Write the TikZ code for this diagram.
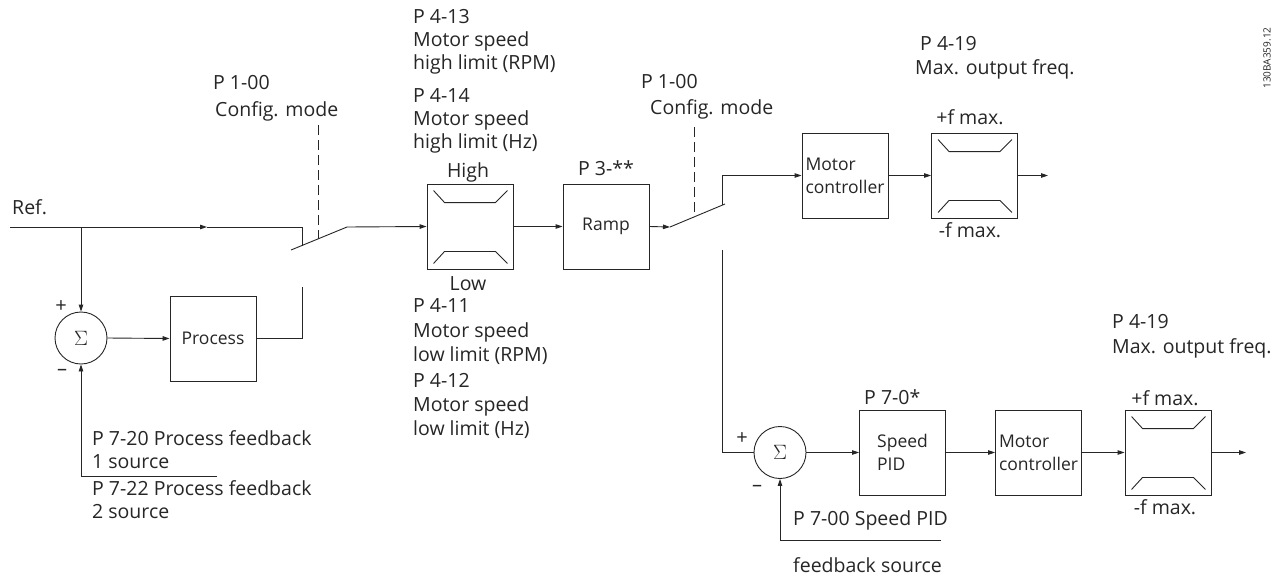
\documentclass[tikz,border=0pt]{standalone}
\usepackage{fontspec}
\setmainfont{Open Sans}
\usetikzlibrary{arrows.meta,calc}
\tikzset{
  ln/.style={draw=black!85, line width=0.9pt},
  arr/.style={ln, -{Triangle[length=7pt,width=4.5pt]}},
  blk/.style={ln, rectangle, minimum width=86pt, minimum height=85pt, inner sep=0pt, align=left, text=black!85, font=\fontsize{17.5}{23}\selectfont},
  sumc/.style={ln, circle, minimum size=52pt, inner sep=0pt, text=black!85, font=\fontsize{22}{24}\selectfont},
  lbl/.style={inner sep=0pt, anchor=base west, text=black!85, font=\fontsize{19.5}{24}\selectfont},
  lblc/.style={lbl, anchor=base},
  sgn/.style={inner sep=0pt, text=black!85, font=\fontsize{20}{22}\selectfont},
  dsh/.style={ln, dash pattern=on 10pt off 5pt},
}
\newcommand{\limiter}[1]{%
  \draw[ln] ($(#1.north west)+(7,7)$) -- ($(#1.north west)+(18,19)$) -- ($(#1.north east)+(-18,19)$) -- ($(#1.north east)+(-6,7)$);
  \draw[ln] ($(#1.south west)+(7,-6)$) -- ($(#1.south west)+(18,-18)$) -- ($(#1.south east)+(-18,-18)$) -- ($(#1.south east)+(-6,-6)$);
}
\begin{document}
\begin{tikzpicture}[x=1pt,y=-1pt]
\useasboundingbox (0,0) rectangle (1274,581);
\fill[white] (0,0) rectangle (1274,581);

% blocks
\node[blk] (lim1) at (470,226.5) {};
\node[blk] (ramp) at (606,226.5) {Ramp};
\node[blk] (proc) at (213,338.5) {Process};
\node[blk] (mc1) at (845,175.5) {Motor\\controller};
\node[blk] (lim2) at (974.5,175.5) {};
\node[blk] (pid) at (902.5,452.5) {Speed\\PID};
\node[blk] (mc2) at (1038.5,452.5) {Motor\\controller};
\node[blk] (lim3) at (1168,452.5) {};
\node[sumc] (s1) at (81,338) {$\Sigma$};
\node[sumc] (s2) at (780,452.5) {$\Sigma$};
\limiter{lim1}
\limiter{lim2}
\limiter{lim3}

% points
\coordinate (refstart) at (10,227);
\coordinate (j1) at (81,227);
\coordinate (refmid) at (207,227);
\coordinate (sw1top) at (302,227);
\coordinate (sw1piv) at (302,245.5);
\coordinate (sw1a) at (291,250);
\coordinate (sw1b) at (347,227);
\coordinate (sw1low) at (302,287);
\coordinate (d1top) at (318,125);
\coordinate (d1bot) at (318,239);
\coordinate (fb1c) at (81,476);
\coordinate (fb1e) at (217,476);
\coordinate (sw2a) at (670,227);
\coordinate (sw2b) at (725,204);
\coordinate (sw2up) at (722,205.3);
\coordinate (sw2low) at (722,250);
\coordinate (d2top) at (694,127);
\coordinate (d2bot) at (694,217);
\coordinate (out1) at (1048,175.5);
\coordinate (out2) at (1246,452.5);
\coordinate (fb2c) at (780,540);
\coordinate (fb2e) at (941,540);

% connectors
\draw[ln] (refstart) -- (j1);
\draw[arr] (j1) -- (refmid);
\draw[ln] (refmid) -- (sw1top) -- (sw1piv);
\draw[ln] (sw1a) -- (sw1b);
\draw[arr] (sw1b) -- (lim1.west);
\draw[dsh] (d1top) -- (d1bot);
\draw[arr] (j1) -- (s1.north);
\draw[arr] (s1.east) -- (proc.west);
\draw[ln] (proc.east) -| (sw1low);
\draw[ln] (fb1e) -- (fb1c);
\draw[arr] (fb1c) -- (s1.south);
\draw[arr] (lim1.east) -- (ramp.west);
\draw[arr] (ramp.east) -- (sw2a);
\draw[ln] (sw2a) -- (sw2b);
\draw[dsh] (d2top) -- (d2bot);
\draw[arr] (sw2up) |- (mc1.west);
\draw[arr] (mc1.east) -- (lim2.west);
\draw[arr] (lim2.east) -- (out1);
\draw[ln] (sw2low) |- (s2.west);
\draw[arr] (s2.east) -- (pid.west);
\draw[arr] (pid.east) -- (mc2.west);
\draw[arr] (mc2.east) -- (lim3.west);
\draw[arr] (lim3.east) -- (out2);
\draw[ln] (fb2e) -- (fb2c);
\draw[arr] (fb2c) -- (s2.south);

% signs
\node[sgn] (s1p) at (61,307) {+};
\node[sgn] (s1m) at (62,372) {–};
\node[sgn] (s2p) at (742,439) {+};
\node[sgn] (s2m) at (757,488) {–};

% labels
\node[lbl] (ref) at (12,214) {Ref.};
\node[lbl] (p100a) at (213,89) {P 1-00};
\node[lbl] (cfga) at (215,116) {Config. mode};
\node[lbl] (p413) at (413,23) {P 4-13};
\node[lbl] (p413a) at (413,46) {Motor speed};
\node[lbl] (p413b) at (413,69) {high limit (RPM)};
\node[lbl] (p414) at (413,102) {P 4-14};
\node[lbl] (p414a) at (413,125) {Motor speed};
\node[lbl] (p414b) at (413,148) {high limit (Hz)};
\node[lblc] (high) at (468,177) {High};
\node[lblc] (low) at (468,290) {Low};
\node[lbl] (p3) at (578,175) {P 3-**};
\node[lbl] (p411) at (413,312) {P 4-11};
\node[lbl] (p411a) at (413,337) {Motor speed};
\node[lbl] (p411b) at (413,361) {low limit (RPM)};
\node[lbl] (p412) at (413,387) {P 4-12};
\node[lbl] (p412a) at (413,411) {Motor speed};
\node[lbl] (p412b) at (413,435) {low limit (Hz)};
\node[lbl] (p100b) at (641,88) {P 1-00};
\node[lbl] (cfgb) at (650,114) {Config. mode};
\node[lbl] (p419a) at (920,50) {P 4-19};
\node[lbl] (maxa) at (915,74) {Max. output freq.};
\node[lblc] (fpa) at (970,124) {+f max.};
\node[lblc] (fma) at (970,237) {-f max.};
\node[lbl] (p419b) at (1112,328) {P 4-19};
\node[lbl] (maxb) at (1112,353) {Max. output freq.};
\node[lbl] (p70) at (864,404) {P 7-0*};
\node[lblc] (fpb) at (1165,405) {+f max.};
\node[lblc] (fmb) at (1165,514) {-f max.};
\node[lbl] (p700) at (793,525) {P 7-00 Speed PID};
\node[lbl] (p700b) at (793,572) {feedback source};
\node[lbl] (p720) at (92,445) {P 7-20 Process feedback};
\node[lbl] (p720b) at (92,468) {1 source};
\node[lbl] (p722) at (92,495) {P 7-22 Process feedback};
\node[lbl] (p722b) at (92,518) {2 source};
\node[rotate=90, inner sep=0pt, text=black!85, font=\fontsize{10}{12}\selectfont] (docid) at (1267,58) {130BA359.12};
\end{tikzpicture}
\end{document}
